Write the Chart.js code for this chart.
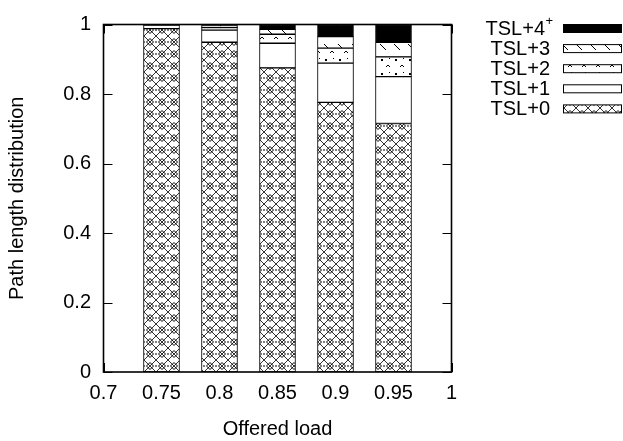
<!DOCTYPE html>
<html>
<head>
<meta charset="utf-8">
<script src="https://cdn.jsdelivr.net/npm/chart.js@4/dist/chart.umd.min.js"></script>
<style>
html,body{margin:0;padding:0;background:#fff;}
#wrap{width:623px;height:441px;position:relative;}
</style>
</head>
<body>
<div id="wrap"><canvas id="c" width="623" height="441"></canvas></div>
<script>
// ---- data ----
const loads = [0.75, 0.8, 0.85, 0.9, 0.95];
const tsl0 = [0.988, 0.949, 0.875, 0.776, 0.715];
const tsl1 = [0.010, 0.035, 0.071, 0.113, 0.135];
const tsl2 = [0.001, 0.007, 0.026, 0.043, 0.057];
const tsl3 = [0.001, 0.006, 0.014, 0.033, 0.042];
const tsl4 = [0.000, 0.003, 0.014, 0.035, 0.051];
const seriesLabels = ['TSL+0', 'TSL+1', 'TSL+2', 'TSL+3', 'TSL+4\u207A'];
const xTicks = [0.7, 0.75, 0.8, 0.85, 0.9, 0.95, 1];
const xTickLabels = ['0.7', '0.75', '0.8', '0.85', '0.9', '0.95', '1'];
const yTicks = [0, 0.2, 0.4, 0.6, 0.8, 1];
const yTickLabels = ['0', '0.2', '0.4', '0.6', '0.8', '1'];

const FONT = '"Liberation Sans", Arial, Helvetica, sans-serif';

// ---- fill patterns ----
function makePattern(size, drawFn) {
  const c = document.createElement('canvas');
  c.width = size; c.height = size;
  const g = c.getContext('2d');
  g.fillStyle = '#fff'; g.fillRect(0, 0, size, size);
  g.strokeStyle = '#000'; g.fillStyle = '#000'; g.lineWidth = 1;
  drawFn(g, size);
  return document.getElementById('c').getContext('2d').createPattern(c, 'repeat');
}
const pat0 = makePattern(12, (g, s) => {
  g.strokeStyle = '#333';
  g.beginPath();
  g.moveTo(0, 0); g.lineTo(s, s);
  g.moveTo(s, 0); g.lineTo(0, s);
  g.stroke();
  g.strokeStyle = '#000';
  g.beginPath();
  g.moveTo(6, 2.5); g.lineTo(9.5, 6); g.lineTo(6, 9.5); g.lineTo(2.5, 6); g.closePath();
  g.stroke();
  g.fillRect(0, 5.5, 1, 1); g.fillRect(11, 5.5, 1, 1);
});
const pat2 = makePattern(14, (g, s) => {
  g.fillRect(3, 3, 2, 2);
  g.beginPath();
  g.moveTo(8, 11); g.lineTo(10, 9); g.lineTo(12, 11);
  g.stroke();
  g.fillRect(11, 2, 1, 1);
});
const pat3 = makePattern(14, (g, s) => {
  g.beginPath();
  g.moveTo(2, 2); g.lineTo(8, 8);
  g.stroke();
});
const fills = [pat0, '#ffffff', pat2, pat3, '#000000'];
const seriesData = [tsl0, tsl1, tsl2, tsl3, tsl4];

const datasets = seriesData.map((arr, i) => ({
  label: seriesLabels[i],
  data: loads.map((x, j) => ({ x: x, y: arr[j] })),
  backgroundColor: fills[i],
  borderColor: '#000',
  borderWidth: 1,
  borderSkipped: false,
  barThickness: 36,
  grouped: false
}));

// ---- plugins: frame, inward ticks, legend ----
const framePlugin = {
  id: 'frame',
  afterDatasetsDraw(chart) {
    const { ctx, chartArea: a, scales } = chart;
    ctx.save();
    ctx.strokeStyle = '#000';
    ctx.lineWidth = 1;
    ctx.beginPath();
    scales.y.ticks.forEach(t => {
      const y = Math.round(scales.y.getPixelForValue(t.value)) + 0.5;
      ctx.moveTo(a.left, y); ctx.lineTo(a.left + 9, y);
      ctx.moveTo(a.right, y); ctx.lineTo(a.right - 9, y);
    });
    ctx.stroke();
    ctx.lineWidth = 1.6;
    ctx.strokeRect(a.left, a.top, a.right - a.left, a.bottom - a.top);
    ctx.restore();
  },
  beforeDatasetsDraw(chart) {
    const { ctx, chartArea: a, scales } = chart;
    ctx.save();
    ctx.strokeStyle = '#000';
    ctx.lineWidth = 1;
    ctx.beginPath();
    scales.x.ticks.forEach(t => {
      const x = Math.round(scales.x.getPixelForValue(t.value)) + 0.5;
      ctx.moveTo(x, a.bottom); ctx.lineTo(x, a.bottom - 9);
      ctx.moveTo(x, a.top); ctx.lineTo(x, a.top + 9);
    });
    ctx.stroke();
    ctx.restore();
  }
};

const legendPlugin = {
  id: 'customLegend',
  afterDraw(chart) {
    const ctx = chart.ctx;
    const ds = chart.data.datasets;
    ctx.save();
    ctx.textBaseline = 'middle';
    for (let k = 0; k < ds.length; k++) {
      const i = ds.length - 1 - k;
      const cy = 28.5 + k * 20.1;
      // box
      ctx.fillStyle = ds[i].backgroundColor;
      ctx.fillRect(563.5, cy - 4, 58, 8);
      ctx.strokeStyle = '#000';
      ctx.lineWidth = 1;
      ctx.strokeRect(563.5, cy - 4, 58, 8);
      // text
      let label = ds[i].label;
      let sup = '';
      if (label.endsWith('\u207A')) { sup = '+'; label = label.slice(0, -1); }
      ctx.fillStyle = '#000';
      ctx.textAlign = 'right';
      let right = 550;
      if (sup) {
        ctx.font = '13px ' + FONT;
        ctx.fillText(sup, 553, cy - 7);
        right = 545;
      }
      ctx.font = '20px ' + FONT;
      ctx.fillText(label, right, cy + 1);
    }
    ctx.restore();
  }
};

new Chart(document.getElementById('c'), {
  type: 'bar',
  data: { datasets },
  options: {
    responsive: false,
    animation: false,
    devicePixelRatio: 1,
    layout: { padding: { left: 0, top: 9, right: 171.5, bottom: 0 } },
    plugins: { legend: { display: false }, tooltip: { enabled: false } },
    scales: {
      x: {
        type: 'linear',
        stacked: true,
        offset: false,
        min: 0.7, max: 1,
        grid: { display: false, drawTicks: false, offset: false },
        border: { display: false },
        afterBuildTicks: s => { s.ticks = xTicks.map(v => ({ value: v })); },
        afterFit: s => { s.height = 69; },
        ticks: {
          color: '#000',
          font: { family: FONT, size: 20 },
          padding: 9,
          maxRotation: 0,
          autoSkip: false,
          callback: (v) => { const i = xTicks.findIndex(t => Math.abs(t - v) < 1e-9); return i >= 0 ? xTickLabels[i] : ''; }
        },
        title: {
          display: true, text: 'Offered load', color: '#000',
          font: { family: FONT, size: 20 },
          padding: { top: 6.5, bottom: 0 }
        }
      },
      y: {
        stacked: true,
        min: 0, max: 1,
        grid: { display: false, drawTicks: false },
        border: { display: false },
        afterBuildTicks: s => { s.ticks = yTicks.map(v => ({ value: v })); },
        afterFit: s => { s.width = 103.5; },
        ticks: {
          color: '#000',
          font: { family: FONT, size: 20 },
          padding: 12.5,
          callback: (v) => { const i = yTicks.findIndex(t => Math.abs(t - v) < 1e-9); return i >= 0 ? yTickLabels[i] : ''; }
        },
        title: {
          display: true, text: 'Path length distribution', color: '#000',
          font: { family: FONT, size: 20 },
          padding: { top: 5.5, bottom: 0 }
        }
      }
    }
  },
  plugins: [framePlugin, legendPlugin]
});
</script>
</body>
</html>
